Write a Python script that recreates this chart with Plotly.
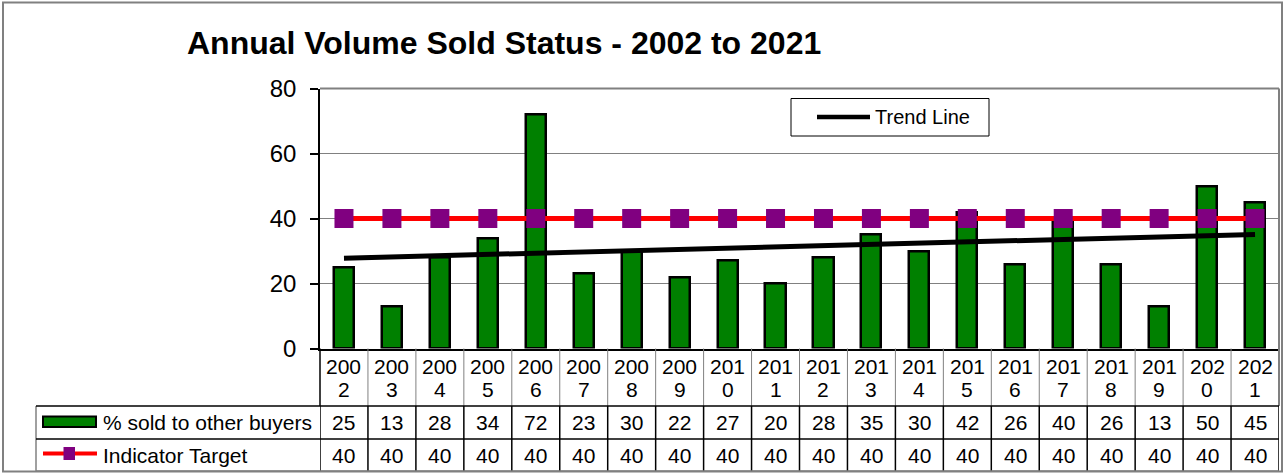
import numpy as np
import plotly.graph_objects as go

# ---------------- data ----------------
years = [str(y) for y in range(2002, 2022)]
sold_pct = [25, 13, 28, 34, 72, 23, 30, 22, 27, 20, 28, 35, 30, 42, 26, 40, 26, 13, 50, 45]
target = [40] * 20
series_names = ["% sold to other buyers", "Indicator Target"]
trend_name = "Trend Line"
title_text = "Annual Volume Sold Status - 2002 to 2021"
y_ticks = [0, 20, 40, 60, 80]

# ---------------- geometry (pixels) ----------------
W, H = 1287, 473
PL, PR, PT, PB = 320, 1279, 88.5, 348.5
HDR_B, ROW1_B, ROW2_B = 406, 439, 471
LEG_L = 36
FONT = "Liberation Sans, Arial, sans-serif"


def px(x):
    return x / W


def py(y):
    return 1 - y / H


idx = np.arange(len(years))
coef = np.polyfit(idx, np.array(sold_pct, dtype=float), 1)
trend_vals = list(np.polyval(coef, idx))

fig = go.Figure()
fig.add_trace(go.Bar(
    x=idx, y=sold_pct, name=series_names[0], width=0.42,
    marker=dict(color="#008000", line=dict(color="black", width=2.5)),
    showlegend=False,
))
fig.add_trace(go.Scatter(
    x=idx, y=target, name=series_names[1], mode="lines+markers",
    line=dict(color="#FF0000", width=5),
    marker=dict(symbol="square", size=19, color="#800080"),
    showlegend=False,
))
fig.add_trace(go.Scatter(
    x=[idx[0], idx[-1]], y=[trend_vals[0], trend_vals[-1]], name=trend_name,
    mode="lines", line=dict(color="black", width=5), showlegend=False,
))

shapes = []
annotations = []

# outer chart border
shapes.append(dict(type="rect", xref="paper", yref="paper",
                   x0=px(3), x1=px(1282), y0=py(471.5), y1=py(2.5),
                   line=dict(color="#808080", width=2), layer="below"))
# plot area top/right border
shapes.append(dict(type="line", xref="paper", yref="paper",
                   x0=px(PL), x1=px(PR), y0=py(PT), y1=py(PT),
                   line=dict(color="#808080", width=2)))
shapes.append(dict(type="line", xref="paper", yref="paper",
                   x0=px(PR), x1=px(PR), y0=py(PT), y1=py(HDR_B),
                   line=dict(color="#808080", width=2)))

# table: header row vertical separators (gray)
for i in range(1, len(years)):
    shapes.append(dict(type="line", xref="x", yref="paper",
                       x0=i - 0.5, x1=i - 0.5, y0=py(PB), y1=py(HDR_B),
                       line=dict(color="#808080", width=1)))
# left edge of header (axis continuation)
shapes.append(dict(type="line", xref="paper", yref="paper",
                   x0=px(PL), x1=px(PL), y0=py(PB), y1=py(HDR_B),
                   line=dict(color="black", width=1.5)))
# data rows vertical separators (black)
for i in range(0, len(years) + 1):
    shapes.append(dict(type="line", xref="x", yref="paper",
                       x0=i - 0.5, x1=i - 0.5, y0=py(HDR_B), y1=py(ROW2_B),
                       line=dict(color="black", width=1.5)))
shapes.append(dict(type="line", xref="paper", yref="paper",
                   x0=px(LEG_L), x1=px(LEG_L), y0=py(HDR_B), y1=py(ROW2_B),
                   line=dict(color="#808080", width=1.5)))
# horizontal lines
for yy, col in [(HDR_B, "black"), (ROW1_B, "black"), (ROW2_B, "#808080")]:
    shapes.append(dict(type="line", xref="paper", yref="paper",
                       x0=px(LEG_L), x1=px(PR), y0=py(yy), y1=py(yy),
                       line=dict(color=col, width=1.5)))

# header text (year split across two lines)
for i, yr in enumerate(years):
    annotations.append(dict(x=i, y=py(366), xref="x", yref="paper", text=yr[:3],
                            showarrow=False, font=dict(size=21, color="black", family=FONT),
                            xanchor="center", yanchor="middle"))
    annotations.append(dict(x=i, y=py(389), xref="x", yref="paper", text=yr[3:],
                            showarrow=False, font=dict(size=21, color="black", family=FONT),
                            xanchor="center", yanchor="middle"))
    annotations.append(dict(x=i, y=py(422.5), xref="x", yref="paper", text=str(sold_pct[i]),
                            showarrow=False, font=dict(size=21, color="black", family=FONT),
                            xanchor="center", yanchor="middle"))
    annotations.append(dict(x=i, y=py(455), xref="x", yref="paper", text=str(target[i]),
                            showarrow=False, font=dict(size=21, color="black", family=FONT),
                            xanchor="center", yanchor="middle"))

# table legend keys
shapes.append(dict(type="rect", xref="paper", yref="paper",
                   x0=px(43), x1=px(96), y0=py(427), y1=py(416.5),
                   fillcolor="#008000", line=dict(color="black", width=2)))
shapes.append(dict(type="line", xref="paper", yref="paper",
                   x0=px(43), x1=px(97), y0=py(453.5), y1=py(453.5),
                   line=dict(color="#FF0000", width=4)))
shapes.append(dict(type="rect", xref="paper", yref="paper",
                   x0=px(63.5), x1=px(75), y0=py(460), y1=py(447),
                   fillcolor="#800080", line=dict(width=0)))
annotations.append(dict(x=px(101), y=py(422.5), xref="paper", yref="paper",
                        text=series_names[0], showarrow=False,
                        font=dict(size=21, color="black", family=FONT),
                        xanchor="left", yanchor="middle"))
annotations.append(dict(x=px(101), y=py(455), xref="paper", yref="paper",
                        text=series_names[1], showarrow=False,
                        font=dict(size=21, color="black", family=FONT),
                        xanchor="left", yanchor="middle"))

# trend line legend box
shapes.append(dict(type="rect", xref="paper", yref="paper",
                   x0=px(791), x1=px(989), y0=py(136), y1=py(98.5),
                   fillcolor="white", line=dict(color="black", width=1)))
shapes.append(dict(type="line", xref="paper", yref="paper",
                   x0=px(817), x1=px(870), y0=py(117), y1=py(117),
                   line=dict(color="black", width=4.5)))
annotations.append(dict(x=px(873), y=py(117), xref="paper", yref="paper",
                        text=trend_name, showarrow=False,
                        font=dict(size=20, color="black", family=FONT),
                        xanchor="left", yanchor="middle"))

# title
annotations.append(dict(x=px(185), y=py(43), xref="paper", yref="paper",
                        text="<b>" + title_text + "</b>", showarrow=False,
                        font=dict(size=32, color="black", family=FONT),
                        xanchor="left", yanchor="middle"))

fig.update_layout(
    width=W, height=H,
    margin=dict(l=0, r=0, t=0, b=0, autoexpand=False),
    paper_bgcolor="white", plot_bgcolor="white",
    showlegend=False,
    shapes=shapes, annotations=annotations,
    bargap=0,
    xaxis=dict(domain=[px(PL), px(PR)], range=[-0.5, len(years) - 0.5],
               showticklabels=False, showgrid=False, zeroline=False, automargin=False,
               showline=True, linecolor="black", linewidth=1.5, ticks=""),
    yaxis=dict(domain=[py(PB), py(PT)], range=[0, 80], tickvals=y_ticks,
               showgrid=True, gridcolor="#808080", gridwidth=1, automargin=False,
               zeroline=False, showline=True, linecolor="black", linewidth=1.5,
               ticks="outside", ticklen=8, tickcolor="black", tickwidth=1.5,
               ticklabelstandoff=9,
               tickfont=dict(size=24, color="black", family=FONT)),
    font=dict(family=FONT),
)

fig.write_html("out.html", config={"displayModeBar": False},
               post_script="document.body.style.margin='0';document.body.style.overflow='hidden';")
